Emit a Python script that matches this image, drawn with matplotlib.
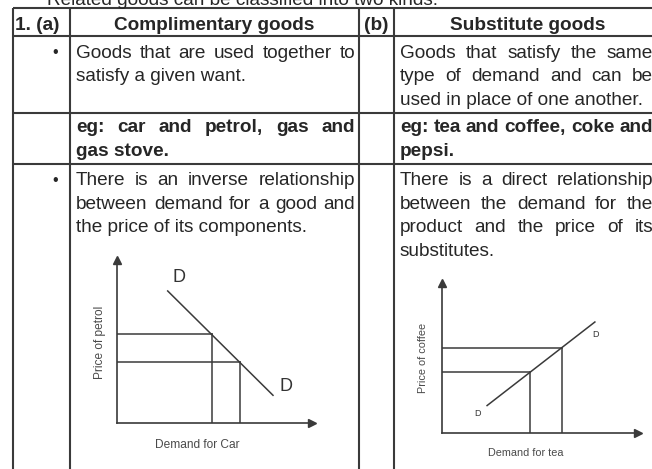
import matplotlib
matplotlib.use("Agg")
import matplotlib.pyplot as plt

plt.rcParams['font.family'] = ['Liberation Sans', 'DejaVu Sans']

# ---------------- data ----------------
intro_text = "Related goods can be classified into two kinds:"
header_labels = ["1. (a)", "Complimentary goods", "(b)", "Substitute goods"]
comp_def = ["Goods that are used together to", "satisfy a given want."]
sub_def = ["Goods that satisfy the same", "type of demand and can be",
           "used in place of one another."]
comp_eg = ["eg: car and petrol, gas and", "gas stove."]
sub_eg = ["eg: tea and coffee, coke and", "pepsi."]
comp_rel = ["There is an inverse relationship", "between demand for a good and",
            "the price of its components."]
sub_rel = ["There is a direct relationship", "between the demand for the",
           "product and the price of its", "substitutes."]

# complementary-goods diagram (demand for car vs price of petrol)
car_demand_q = [2.6, 8.0]
car_demand_p = [8.1, 1.7]
car_points_q = [4.85, 6.3]
car_points_p = [5.43, 3.72]
car_xlabel = "Demand for Car"
car_ylabel = "Price of petrol"

# substitute-goods diagram (demand for tea vs price of coffee)
tea_demand_q = [2.3, 7.8]
tea_demand_p = [1.83, 7.4]
tea_points_q = [4.5, 6.1]
tea_points_p = [4.06, 5.68]
tea_xlabel = "Demand for tea"
tea_ylabel = "Price of coffee"
curve_label = "D"

# ---------------- figure ----------------
W, H = 652, 469
fig = plt.figure(figsize=(W / 100, H / 100), dpi=100)
fig.patch.set_facecolor("white")
ax = fig.add_axes([0, 0, 1, 1])
ax.set_xlim(0, W)
ax.set_ylim(H, 0)
ax.axis("off")
renderer = fig.canvas.get_renderer()

TC = "#262626"
LC = "#3a3a3a"
FS = 13.7

# table grid
vlines = [12.7, 70, 359, 394]
hlines = [8.5, 36, 113, 164]
for x in vlines:
    ax.plot([x, x], [hlines[0], H + 5], color=LC, lw=1.5, solid_capstyle="butt")
for y in hlines:
    ax.plot([vlines[0], W + 5], [y, y], color=LC, lw=1.5, solid_capstyle="butt")


def put_line(text, x0, x1, yb, justify, weight="normal"):
    if not justify:
        ax.text(x0, yb, text, ha="left", va="baseline", fontsize=FS,
                weight=weight, color=TC)
        return
    words = text.split()
    ts = [ax.text(x0, yb, w, ha="left", va="baseline", fontsize=FS,
                  weight=weight, color=TC) for w in words]
    ws = [t.get_window_extent(renderer=renderer).width for t in ts]
    gap = (x1 - x0 - sum(ws)) / max(len(words) - 1, 1)
    x = x0
    for t, w in zip(ts, ws):
        t.set_x(x)
        x += w + gap


def paragraph(lines, x0, x1, yb0, step, weight="normal", justify_last=False):
    for i, line in enumerate(lines):
        last = i == len(lines) - 1
        put_line(line, x0, x1, yb0 + i * step, (not last) or justify_last, weight)


# intro line (cut at top, as in the source)
ax.text(47, 5, intro_text, ha="left", va="baseline", fontsize=FS, color=TC)

# header
ax.text(15, 29.5, header_labels[0], ha="left", va="baseline", fontsize=FS,
        weight="bold", color=TC)
ax.text(214.5, 29.5, header_labels[1], ha="center", va="baseline", fontsize=FS,
        weight="bold", color=TC)
ax.text(376.5, 29.5, header_labels[2], ha="center", va="baseline", fontsize=FS,
        weight="bold", color=TC)
ax.text(528, 29.5, header_labels[3], ha="center", va="baseline", fontsize=FS,
        weight="bold", color=TC)

LX0, LX1 = 76, 355
RX0, RX1 = 400, 653
STEP = 23.3

# bullets
ax.text(55, 53, "\u2022", ha="center", va="center", fontsize=11.5, color=TC)
ax.text(55, 180, "\u2022", ha="center", va="center", fontsize=11.5, color=TC)

paragraph(comp_def, LX0, LX1, 58, STEP)
paragraph(sub_def, RX0, RX1, 58, STEP)
paragraph(comp_eg, LX0, LX1, 132, 24.5, weight="bold")
paragraph(sub_eg, RX0, RX1, 132, 24.5, weight="bold")
paragraph(comp_rel, LX0, LX1, 185, 23.6)
paragraph(sub_rel, RX0, RX1, 185, 23.6)


# ---------------- diagrams ----------------
def diagram(rect_px, dq, dp, pq, pp, xlabel, ylabel, xl_pos, yl_pos,
            d_pos, d_size, lab_size):
    x0, ytop, x1, ybot = rect_px
    a = fig.add_axes([x0 / W, (H - ybot) / H, (x1 - x0) / W, (ybot - ytop) / H])
    a.patch.set_alpha(0)
    a.set_xlim(0, 10)
    a.set_ylim(0, 10)
    for s in ["top", "right"]:
        a.spines[s].set_visible(False)
    for s in ["left", "bottom"]:
        a.spines[s].set_color(LC)
        a.spines[s].set_linewidth(1.2)
    a.set_xticks([])
    a.set_yticks([])
    a.plot(1, 0, ">", color=LC, ms=6, transform=a.transAxes, clip_on=False)
    a.plot(0, 1, "^", color=LC, ms=6, transform=a.transAxes, clip_on=False)
    a.plot(dq, dp, color=LC, lw=1.1, clip_on=False)
    for q, p in zip(pq, pp):
        a.plot([0, q], [p, p], color=LC, lw=1.1)
        a.plot([q, q], [0, p], color=LC, lw=1.1)
    a.text(xl_pos[0], xl_pos[1], xlabel, transform=a.transAxes, ha="center",
           va="center", fontsize=lab_size, color="#4a4a4a")
    a.text(yl_pos[0], yl_pos[1], ylabel, transform=a.transAxes, ha="center",
           va="center", rotation=90, fontsize=lab_size, color="#4a4a4a")
    for (qx, py) in d_pos:
        a.text(qx, py, curve_label, ha="center", va="center", fontsize=d_size,
               color="#333333", clip_on=False)
    return a


diagram((117, 260, 312, 423), car_demand_q, car_demand_p, car_points_q,
        car_points_p, car_xlabel, car_ylabel,
        (0.41, -0.133), (-0.087, 0.494),
        [(3.2, 8.95), (8.68, 2.22)], 13, 8.6)

diagram((442, 283, 638, 433), tea_demand_q, tea_demand_p, tea_points_q,
        tea_points_p, tea_xlabel, tea_ylabel,
        (0.425, -0.131), (-0.095, 0.503),
        [(1.81, 1.31), (7.84, 6.54)], 6.5, 7.8)

fig.savefig("out.png", dpi=100, facecolor="white")
